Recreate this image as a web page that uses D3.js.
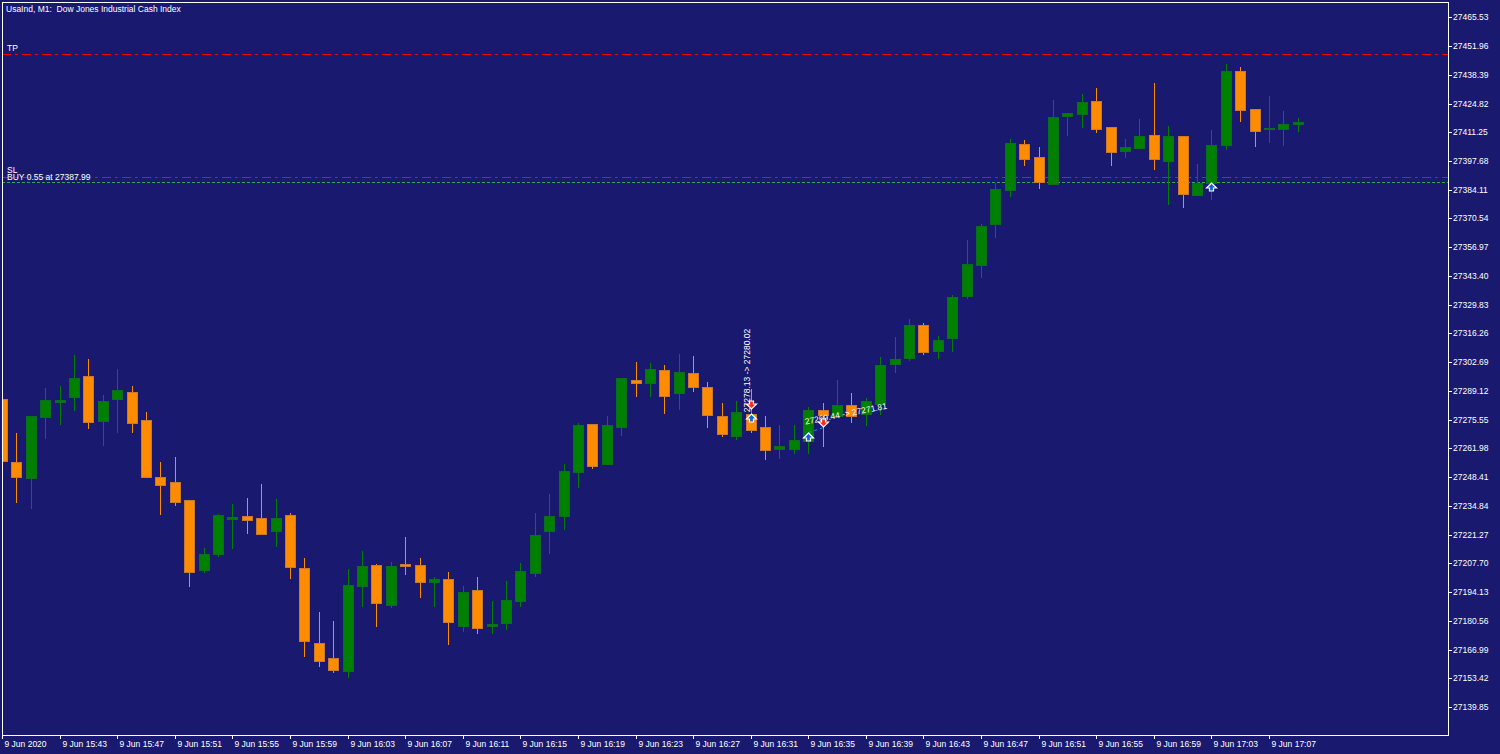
<!DOCTYPE html>
<html>
<head>
<meta charset="utf-8">
<title>UsaInd, M1</title>
<script src="https://cdn.jsdelivr.net/npm/d3@7"></script>
<style>
  html, body { margin: 0; padding: 0; background: #191970; overflow: hidden; }
  svg { display: block; }
  text { font-family: "Liberation Sans", Arial, sans-serif; font-size: 8.5px; fill: #ffffff; white-space: pre; }
</style>
</head>
<body>
<div id="chart"></div>
<script>
// M1 bars, 9 Jun 2020 15:39 -> 17:09
const opens = [27285.29, 27255.40, 27247.98, 27276.79, 27284.01, 27286.09, 27296.15, 27275.04, 27285.15, 27288.59,
  27275.37, 27248.31, 27246.09, 27237.59, 27204.68, 27212.24, 27228.77, 27230.04, 27229.10, 27222.96,
  27230.51, 27205.48, 27170.07, 27162.99, 27156.85, 27197.13, 27207.04, 27188.16, 27207.23, 27207.04,
  27198.73, 27200.29, 27177.95, 27195.24, 27177.95, 27179.66, 27189.90, 27202.98, 27222.96, 27230.18,
  27250.96, 27273.34, 27254.74, 27272.21, 27294.40, 27292.98, 27298.98, 27287.98, 27297.57, 27290.95,
  27277.40, 27267.96, 27278.21, 27272.07, 27261.82, 27261.82, 27265.60, 27280.09, 27277.26, 27282.31,
  27278.06, 27282.93, 27301.82, 27304.65, 27320.23, 27308.10, 27314.09, 27334.07, 27348.71, 27367.92,
  27383.98, 27405.56, 27399.56, 27386.95, 27418.78, 27420.01, 27426.15, 27413.59, 27402.25, 27403.95,
  27410.09, 27397.53, 27409.34, 27381.76, 27387.14, 27405.23, 27440.17, 27422.37, 27412.79, 27412.79,
  27415.00];
const highs = [27287.65, 27269.38, 27277.26, 27290.48, 27291.43, 27306.21, 27304.18, 27287.18, 27299.45, 27291.43,
  27279.15, 27255.54, 27257.90, 27237.59, 27215.07, 27231.12, 27235.57, 27238.54, 27245.15, 27238.07,
  27231.46, 27210.07, 27184.71, 27180.46, 27205.01, 27213.51, 27207.37, 27208.32, 27220.12, 27210.21,
  27201.23, 27203.45, 27196.98, 27201.23, 27190.04, 27199.35, 27207.85, 27231.32, 27240.29, 27254.59,
  27274.10, 27273.34, 27277.40, 27295.20, 27302.62, 27302.43, 27301.34, 27306.40, 27305.59, 27293.32,
  27283.40, 27284.34, 27290.15, 27277.40, 27273.15, 27273.15, 27281.37, 27283.40, 27294.26, 27288.12,
  27285.90, 27304.98, 27314.42, 27323.21, 27321.18, 27315.04, 27334.54, 27360.23, 27367.92, 27387.14,
  27407.92, 27407.59, 27404.29, 27426.34, 27420.34, 27429.31, 27432.15, 27413.59, 27408.06, 27417.37,
  27434.51, 27414.34, 27409.34, 27396.26, 27412.31, 27443.34, 27442.06, 27422.37, 27428.51, 27421.28,
  27418.12];
const lows = [27252.70, 27236.65, 27233.96, 27267.01, 27273.62, 27280.09, 27271.59, 27263.71, 27269.85, 27269.85,
  27248.31, 27230.98, 27235.38, 27197.13, 27203.74, 27211.01, 27214.79, 27222.01, 27221.68, 27215.73,
  27200.90, 27164.07, 27159.35, 27156.52, 27153.87, 27187.68, 27177.95, 27186.93, 27202.79, 27191.79,
  27187.68, 27169.74, 27175.74, 27174.93, 27174.93, 27176.68, 27187.68, 27201.85, 27212.71, 27223.76,
  27243.73, 27252.85, 27254.74, 27268.29, 27286.85, 27286.85, 27278.82, 27280.71, 27288.92, 27272.07,
  27267.96, 27266.26, 27269.85, 27257.19, 27257.57, 27259.79, 27259.79, 27263.24, 27277.26, 27274.43,
  27273.01, 27278.06, 27297.90, 27303.85, 27306.68, 27304.65, 27308.10, 27333.12, 27342.90, 27361.93,
  27381.15, 27395.93, 27384.78, 27386.95, 27409.81, 27413.59, 27411.51, 27395.93, 27399.70, 27403.95,
  27394.04, 27377.51, 27375.95, 27381.76, 27379.73, 27403.20, 27416.70, 27404.90, 27406.79, 27405.23,
  27411.98];
const closes = [27256.01, 27248.60, 27277.26, 27284.96, 27284.96, 27295.20, 27274.57, 27284.34, 27289.40, 27274.10,
  27248.31, 27244.82, 27236.79, 27203.74, 27212.10, 27230.51, 27229.43, 27228.01, 27221.68, 27229.10,
  27205.96, 27171.15, 27161.71, 27157.18, 27197.32, 27206.29, 27189.10, 27206.29, 27206.57, 27198.73,
  27200.29, 27180.13, 27194.01, 27177.15, 27179.04, 27190.23, 27204.07, 27221.07, 27230.04, 27251.29,
  27273.15, 27253.65, 27273.15, 27295.20, 27292.84, 27299.45, 27286.85, 27298.18, 27291.10, 27277.87,
  27268.76, 27279.15, 27270.65, 27261.06, 27263.09, 27265.93, 27280.09, 27277.59, 27282.45, 27277.40,
  27284.20, 27301.20, 27304.18, 27320.23, 27307.48, 27313.15, 27333.45, 27349.04, 27366.98, 27384.31,
  27406.17, 27398.62, 27387.90, 27418.59, 27420.34, 27425.39, 27412.79, 27401.78, 27404.14, 27409.34,
  27398.76, 27409.34, 27382.23, 27387.29, 27405.09, 27440.17, 27421.76, 27411.98, 27413.26, 27415.15,
  27416.09];

// time scale labels (bar index of each label)
const timeTickBars = [0, 4, 8, 12, 16, 20, 24, 28, 32, 36, 40, 44, 48, 52, 56, 60, 64, 68, 72, 76, 80, 84, 88];
const timeTickLabels = ["9 Jun 2020", "9 Jun 15:43", "9 Jun 15:47", "9 Jun 15:51", "9 Jun 15:55", "9 Jun 15:59",
  "9 Jun 16:03", "9 Jun 16:07", "9 Jun 16:11", "9 Jun 16:15", "9 Jun 16:19", "9 Jun 16:23", "9 Jun 16:27",
  "9 Jun 16:31", "9 Jun 16:35", "9 Jun 16:39", "9 Jun 16:43", "9 Jun 16:47", "9 Jun 16:51", "9 Jun 16:55",
  "9 Jun 16:59", "9 Jun 17:03", "9 Jun 17:07"];

// price scale
const priceTicks = [27465.53, 27451.96, 27438.39, 27424.82, 27411.25, 27397.68, 27384.11, 27370.54, 27356.97,
  27343.40, 27329.83, 27316.26, 27302.69, 27289.12, 27275.55, 27261.98, 27248.41, 27234.84, 27221.27,
  27207.70, 27194.13, 27180.56, 27166.99, 27153.42, 27139.85];

// order levels
const levelNames = ["TP", "SL", "BUY 0.55 at 27387.99"];
const levelPrices = [27448.20, 27390.12, 27387.99];

// closed trades
const tradeOpenBars = [52, 56];
const tradeOpenPrices = [27278.13, 27269.44];
const tradeCloseBars = [52, 57];
const tradeClosePrices = [27280.02, 27271.81];
const tradeLabels = ["27278.13 -> 27280.02", "27269.44 -> 27271.81"];
// open position marker
const openBar = 84;
const openPrice = 27387.99;

const width = 1500, height = 754;
const plot = { left: 2, top: 2, right: 1448, bottom: 735 };

const svg = d3.select("#chart").append("svg")
  .attr("width", width)
  .attr("height", height);

svg.append("rect")
  .attr("width", width)
  .attr("height", height)
  .attr("fill", "#191970");

svg.append("clipPath").attr("id", "plotClip")
  .append("rect")
  .attr("x", plot.left + 1).attr("y", plot.top + 1)
  .attr("width", plot.right - plot.left - 1)
  .attr("height", plot.bottom - plot.top - 1);

const x = d3.scaleLinear().domain([0, 88]).range([2, 1269]);
const y = d3.scaleLinear().domain([27126.63, 27472.76]).range([plot.bottom, plot.top]);

const px = v => Math.round(v) + 0.5;

// Axes
const yAxis = svg.append("g")
  .attr("transform", "translate(" + plot.right + ",0)")
  .call(d3.axisRight(y).tickValues(priceTicks).tickSize(4).tickPadding(1).tickFormat(d3.format(".2f")));

const xAxis = svg.append("g")
  .attr("transform", "translate(0," + plot.bottom + ")")
  .call(d3.axisBottom(x).tickValues(timeTickBars).tickSize(4).tickPadding(2)
    .tickFormat((d, i) => timeTickLabels[i]));

[yAxis, xAxis].forEach(g => {
  g.attr("font-family", null).attr("font-size", null);
  g.select(".domain").remove();
  g.selectAll(".tick line").attr("stroke", "#ffffff");
  g.selectAll(".tick text").attr("fill", "#ffffff");
});
xAxis.selectAll(".tick").attr("transform", d => "translate(" + px(x(d)) + ",0)");
xAxis.selectAll(".tick text").attr("text-anchor", "start").attr("x", 2);
yAxis.selectAll(".tick").attr("transform", d => "translate(0," + px(y(d)) + ")");

// Frame
svg.append("rect")
  .attr("x", plot.left + 0.5).attr("y", plot.top + 0.5)
  .attr("width", plot.right - plot.left)
  .attr("height", plot.bottom - plot.top)
  .attr("fill", "none")
  .attr("stroke", "#ffffff");

const chart = svg.append("g").attr("clip-path", "url(#plotClip)");

// Order levels
const levelStyle = [
  { stroke: "#ff0000", dash: "9,4,3,4" },
  { stroke: "#ff0000", dash: "9,4,3,4" },
  { stroke: "#2fa84f", dash: "3,2" }
];
chart.selectAll(".level")
  .data(levelPrices)
  .enter().append("line")
  .attr("x1", plot.left).attr("x2", plot.right)
  .attr("y1", d => px(y(d))).attr("y2", d => px(y(d)))
  .attr("stroke", (d, i) => levelStyle[i].stroke)
  .attr("stroke-dasharray", (d, i) => levelStyle[i].dash);

// Candles
const bars = d3.range(opens.length).map(i => ({ i: i, o: opens[i], h: highs[i], l: lows[i], c: closes[i] }));
const bullColor = "#008000", bearColor = "#ff8c00";

chart.append("g")
  .selectAll("line")
  .data(bars)
  .enter().append("line")
  .attr("x1", d => px(x(d.i))).attr("x2", d => px(x(d.i)))
  .attr("y1", d => Math.round(y(d.h))).attr("y2", d => Math.round(y(d.l)) + 1)
  .attr("stroke", d => d.c >= d.o ? bullColor : bearColor);

chart.append("g")
  .selectAll("rect")
  .data(bars)
  .enter().append("rect")
  .attr("x", d => Math.round(x(d.i)) - 4.5)
  .attr("width", 10)
  .attr("y", d => Math.round(y(Math.max(d.o, d.c))) + 0.5)
  .attr("height", d => Math.max(1, Math.round(y(Math.min(d.o, d.c))) - Math.round(y(Math.max(d.o, d.c)))))
  .attr("fill", d => d.c >= d.o ? bullColor : bearColor)
  .attr("stroke", d => d.c >= d.o ? "#0a6e1e" : "#c8782f");

// Level labels
const levelLabelDy = [-3, -4, -2];
svg.selectAll(".levelLabel")
  .data(levelPrices)
  .enter().append("text")
  .attr("x", 7)
  .attr("y", (d, i) => Math.round(y(d)) + levelLabelDy[i])
  .text((d, i) => levelNames[i]);

// Trade history
const upArrow = "M0,0 L5,5 L2,5 L2,8 L-2,8 L-2,5 L-5,5 Z";
const downArrow = "M-2,0 L2,0 L2,3 L5,3 L0,8 L-5,3 L-2,3 Z";
const labelRotation = [-90, -11];
const labelOffset = [[-2, -2], [-3, -8]];

tradeLabels.forEach((label, i) => {
  const x1 = Math.round(x(tradeOpenBars[i])) + 0.5, y1 = y(tradeOpenPrices[i]);
  const x2 = Math.round(x(tradeCloseBars[i])) + 0.5, y2 = y(tradeClosePrices[i]);
  chart.append("line")
    .attr("x1", x1).attr("y1", y1).attr("x2", x2).attr("y2", y2)
    .attr("stroke", "#1e90ff")
    .attr("stroke-dasharray", "3,3");
  chart.append("text")
    .attr("transform", "translate(" + (x1 + labelOffset[i][0]) + "," + (y1 + labelOffset[i][1]) + ") rotate(" + labelRotation[i] + ")")
    .attr("fill", "#dcdcec")
    .text(label);
  chart.append("path")
    .attr("d", upArrow)
    .attr("transform", "translate(" + x1 + "," + Math.round(y1) + ")")
    .attr("fill", "#1464d2").attr("stroke", "#ffffff").attr("stroke-width", 1.2);
  chart.append("path")
    .attr("d", downArrow)
    .attr("transform", "translate(" + x2 + "," + (Math.round(y2) - 9) + ")")
    .attr("fill", "#ff2a1a").attr("stroke", "#ffffff").attr("stroke-width", 1.2);
});

chart.append("path")
  .attr("d", upArrow)
  .attr("transform", "translate(" + (Math.round(x(openBar)) + 0.5) + "," + (Math.round(y(openPrice)) + 1) + ")")
  .attr("fill", "#1464d2").attr("stroke", "#ffffff").attr("stroke-width", 1.2);

// Title
svg.append("text")
  .attr("x", 6)
  .attr("y", 12)
  .text("UsaInd, M1:  Dow Jones Industrial Cash Index");
</script>
</body>
</html>
